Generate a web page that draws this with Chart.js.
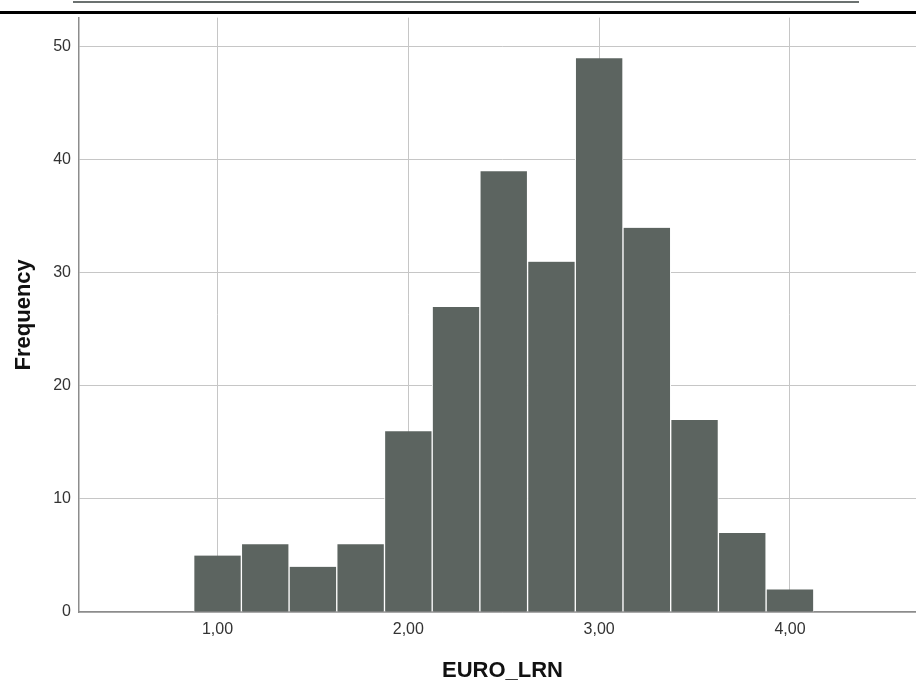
<!DOCTYPE html>
<html>
<head>
<meta charset="utf-8">
<script src="https://cdn.jsdelivr.net/npm/chart.js@4/dist/chart.umd.min.js"></script>
<style>
  html, body { margin: 0; padding: 0; background: #fff; overflow: hidden; }
  #wrap { position: relative; width: 916px; height: 684px; overflow: hidden; }
  #chart { position: absolute; left: 0; top: 0; }
  .rule-gray { position: absolute; left: 73px; top: 1px; width: 786px; height: 2px; background: #6b7170; }
  .rule-black { position: absolute; left: 0; top: 11px; width: 916px; height: 3px; background: #000; }
</style>
</head>
<body>
<div id="wrap">
  <canvas id="chart" width="926" height="684"></canvas>
  <div class="rule-gray"></div>
  <div class="rule-black"></div>
</div>
<script>
// Histogram of EURO_LRN: bin centres (width 0.25) and their frequencies
const binCenters = [1.00, 1.25, 1.50, 1.75, 2.00, 2.25, 2.50, 2.75, 3.00, 3.25, 3.50, 3.75, 4.00];
const frequencies = [5, 6, 4, 6, 16, 27, 39, 31, 49, 34, 17, 7, 2];
const xTickValues = [1, 2, 3, 4];
const yTickValues = [0, 10, 20, 30, 40, 50];

const FONT = "'Liberation Sans', Arial, sans-serif";

const points = binCenters.map((c, i) => ({ x: c, y: frequencies[i] }));

new Chart(document.getElementById('chart'), {
  type: 'bar',
  data: {
    datasets: [{
      data: points,
      backgroundColor: '#5c6460',
      borderColor: '#ffffff',
      borderWidth: { left: 1, right: 1, top: 0, bottom: 0 },
      borderSkipped: false,
      barPercentage: 1,
      categoryPercentage: 1
    }]
  },
  options: {
    responsive: false,
    animation: false,
    devicePixelRatio: 1,
    layout: { padding: { top: 17, left: 0, right: 0, bottom: 0 } },
    plugins: { legend: { display: false }, tooltip: { enabled: false } },
    scales: {
      x: {
        type: 'linear',
        offset: false,
        min: 0.274,
        max: 4.713,
        afterBuildTicks: s => { s.ticks = xTickValues.map(v => ({ value: v })); },
        afterFit: s => { s.height = 72; },
        grid: { color: '#c6c6c6', lineWidth: 1, drawTicks: false, offset: false },
        border: { color: '#8c8c8c', width: 1.5 },
        ticks: {
          padding: 8,
          color: '#333333',
          font: { family: FONT, size: 16 },
          maxRotation: 0,
          callback: v => v.toFixed(2).replace('.', ',')
        },
        title: {
          display: true,
          text: 'EURO_LRN',
          color: '#111',
          font: { family: FONT, size: 22, weight: 'bold' },
          padding: { top: 0, bottom: 0 }
        }
      },
      y: {
        min: 0,
        max: 52.6,
        afterBuildTicks: s => { s.ticks = yTickValues.map(v => ({ value: v })); },
        afterFit: s => { s.width = 79; },
        grid: { color: '#c6c6c6', lineWidth: 1, drawTicks: false },
        border: { color: '#8c8c8c', width: 1.5 },
        ticks: {
          padding: 8,
          color: '#333333',
          font: { family: FONT, size: 16 }
        },
        title: {
          display: true,
          text: 'Frequency',
          color: '#111',
          font: { family: FONT, size: 22, weight: 'bold' },
          padding: { top: 11, bottom: 0 }
        }
      }
    }
  }
});
</script>
</body>
</html>
